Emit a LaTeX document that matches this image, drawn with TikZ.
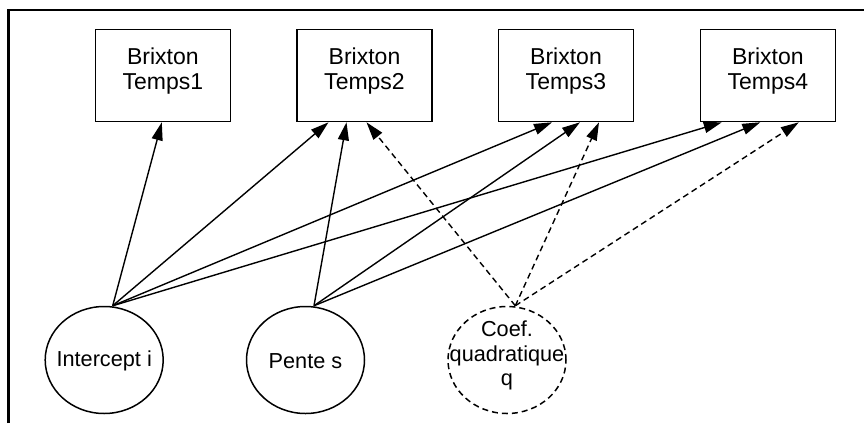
\documentclass[tikz,border=0pt]{standalone}
\usepackage{fontspec}
\setmainfont{Liberation Sans}
\usetikzlibrary{arrows.meta,shapes.geometric,calc}
\begin{document}
\begin{tikzpicture}[x=1pt,y=-1pt,
  box/.style={draw,line width=1.6pt,minimum width=135pt,minimum height=92pt,inner sep=0pt},
  boxtext/.style={font=\fontsize{23}{25.5}\selectfont,align=center,inner sep=0pt,anchor=north},
  latent/.style={draw,ellipse,line width=1.5pt,minimum width=118pt,minimum height=107pt,inner sep=0pt},
  dashedline/.style={dash pattern=on 6pt off 4pt},
  lattext/.style={font=\fontsize{21.7}{24.5}\selectfont,align=center,inner sep=0pt},
  arr/.style={line width=1.4pt,-{Triangle[length=18pt,width=11pt]}},
  darr/.style={arr,dashedline}
]
\useasboundingbox (0,0) rectangle (864,423);
\draw[line width=2.2pt] (8.5,423) -- (8.5,10) -- (864,10);

% observed boxes
\node[box] (b1) at (162.8,75.5) {};
\node[box] (b2) at (364.5,75.5) {};
\node[box] (b3) at (566,75.5) {};
\node[box] (b4) at (767.8,75.5) {};
\node[boxtext] (t1) at ($(b1.north)+(0,18.7)$) {Brixton\\Temps1};
\node[boxtext] (t2) at ($(b2.north)+(0,18.7)$) {Brixton\\Temps2};
\node[boxtext] (t3) at ($(b3.north)+(0,18.7)$) {Brixton\\Temps3};
\node[boxtext] (t4) at ($(b4.north)+(0,18.7)$) {Brixton\\Temps4};

% latent factors
\node[latent] (i) at (104.2,360) {};
\node[latent] (s) at (305.5,360) {};
\node[latent,dashedline] (q) at (507,360) {};
\node[lattext] (ti) at ($(i)+(0,1)$) {Intercept i};
\node[lattext] (ts) at ($(s)+(0,1)$) {Pente s};
\node[lattext] (tq) at ($(q)+(0,-4.5)$) {Coef.\\quadratique\\q};

% start points
\coordinate (i0) at ($(i.north)+(8.5,0)$);
\coordinate (s0) at ($(s.north)+(8.5,0)$);
\coordinate (q0) at ($(q.north)+(8.3,0)$);

% intercept loadings
\draw[arr] (i0) -- ($(b1.south)+(-1,0)$);
\draw[arr] (i0) -- ($(b2.south)+(-36,0)$);
\draw[arr] (i0) -- ($(b3.south)+(-14,0)$);
\draw[arr] (i0) -- ($(b4.south)+(-46,0)$);
% slope loadings
\draw[arr] (s0) -- ($(b2.south)+(-18,0)$);
\draw[arr] (s0) -- ($(b3.south)+(14,0)$);
\draw[arr] (s0) -- ($(b4.south)+(-7.5,0)$);
% quadratic loadings
\draw[darr] (q0) -- ($(b2.south)+(2,0)$);
\draw[darr] (q0) -- ($(b3.south)+(33,0)$);
\draw[darr] (q0) -- ($(b4.south)+(31,0)$);
\end{tikzpicture}
\end{document}
